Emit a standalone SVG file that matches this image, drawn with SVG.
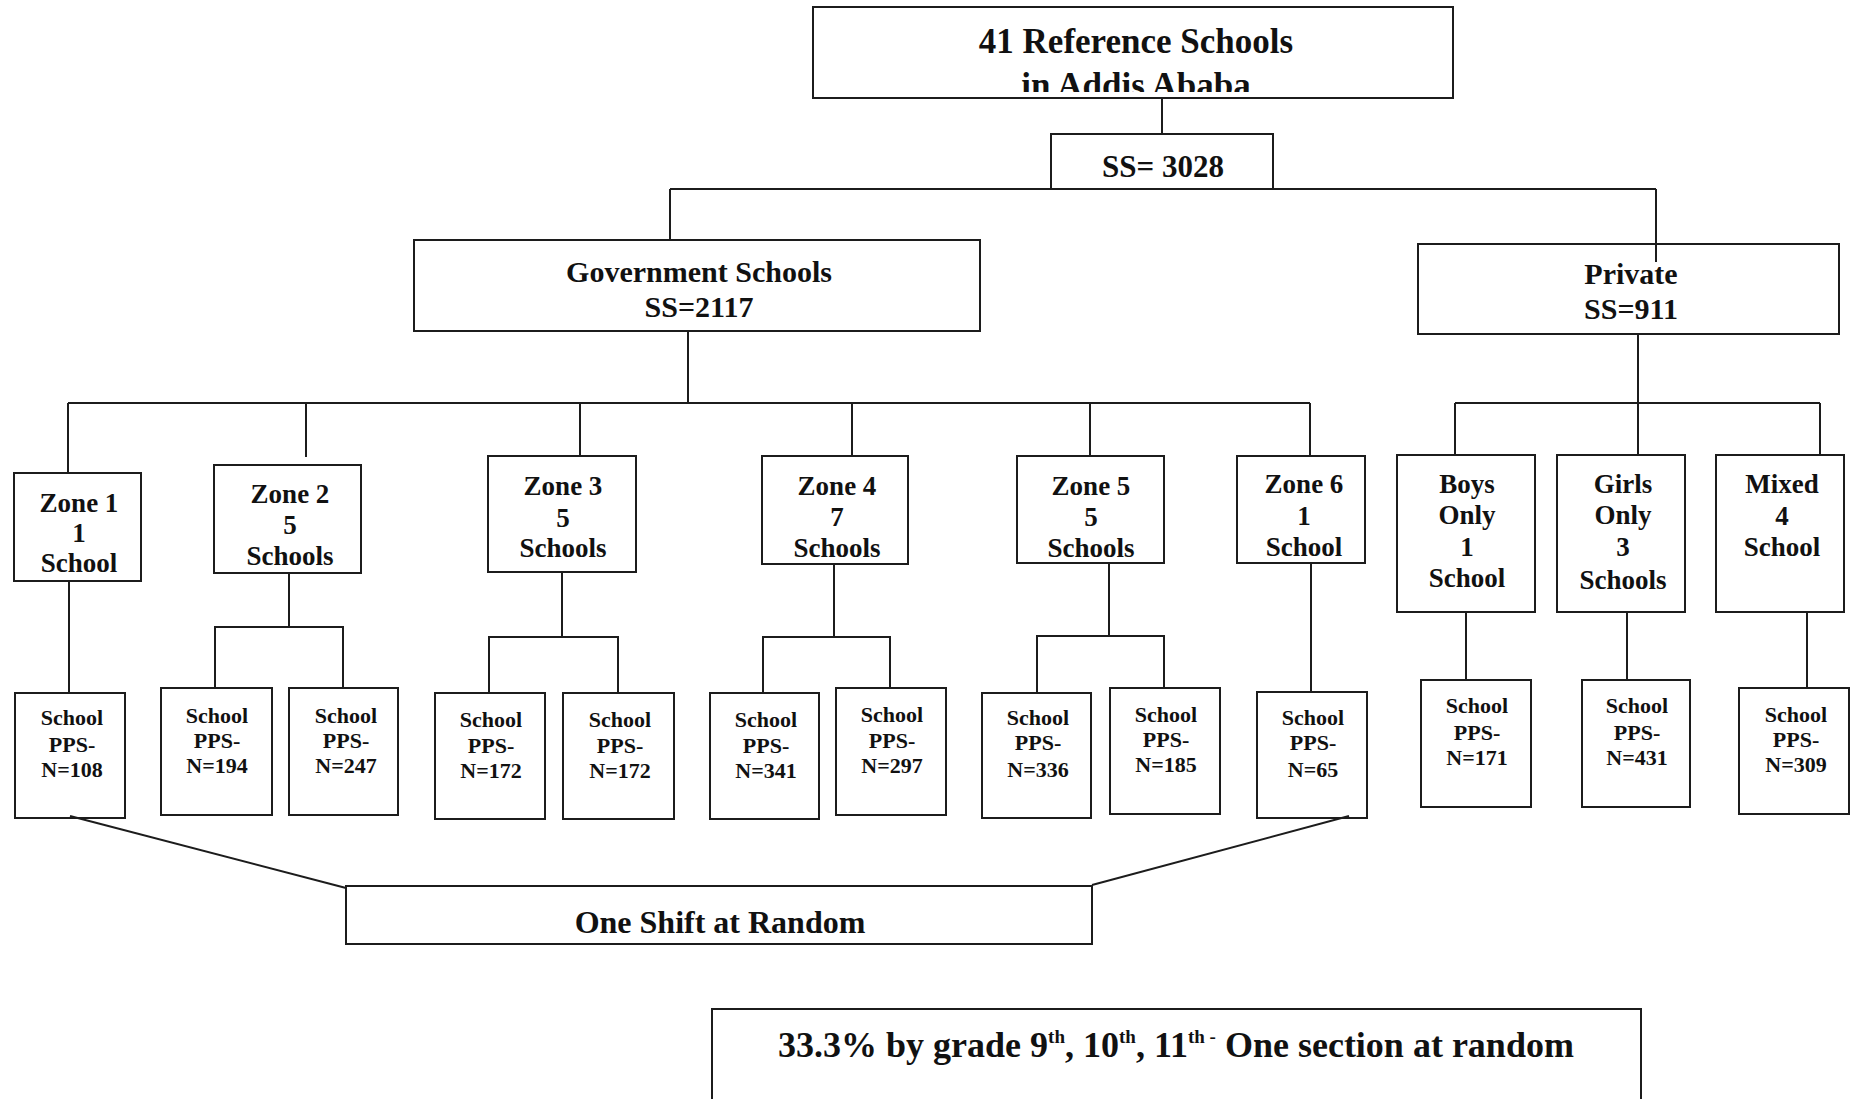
<svg xmlns="http://www.w3.org/2000/svg" width="1854" height="1099" viewBox="0 0 1854 1099">
<style>
  .box { fill: none; stroke: #1c1c1c; stroke-width: 2; }
  .ln { stroke: #1c1c1c; stroke-width: 2; fill: none; }
  text { font-family: "Liberation Serif", "Times New Roman", serif; font-weight: bold; fill: #111; text-anchor: middle; }
  .t35 { font-size: 35px; }
  .t31 { font-size: 31px; }
  .t30 { font-size: 30px; }
  .z { font-size: 27px; }
  .s { font-size: 22px; }
</style>
<defs>
  <clipPath id="clipTop"><rect x="813" y="7" width="640" height="85"/></clipPath>
</defs>
<rect x="0" y="0" width="1854" height="1099" fill="#ffffff"/>

<g id="connectors">
  <line class="ln" x1="1162" y1="98" x2="1162" y2="134"/>
  <line class="ln" x1="670" y1="189" x2="1656" y2="189"/>
  <line class="ln" x1="670" y1="189" x2="670" y2="240"/>
  <line class="ln" x1="1656" y1="189" x2="1656" y2="262"/>
  <line class="ln" x1="688" y1="331" x2="688" y2="403"/>
  <line class="ln" x1="68" y1="403" x2="1310" y2="403"/>
  <line class="ln" x1="68" y1="403" x2="68" y2="473"/>
  <line class="ln" x1="306" y1="403" x2="306" y2="457"/>
  <line class="ln" x1="580" y1="403" x2="580" y2="456"/>
  <line class="ln" x1="852" y1="403" x2="852" y2="456"/>
  <line class="ln" x1="1090" y1="403" x2="1090" y2="456"/>
  <line class="ln" x1="1310" y1="403" x2="1310" y2="456"/>
  <line class="ln" x1="1638" y1="334" x2="1638" y2="455"/>
  <line class="ln" x1="1455" y1="403" x2="1820" y2="403"/>
  <line class="ln" x1="1455" y1="403" x2="1455" y2="455"/>
  <line class="ln" x1="1820" y1="403" x2="1820" y2="455"/>
  <line class="ln" x1="69" y1="581" x2="69" y2="693"/>
  <polyline class="ln" points="215,688 215,627 343,627 343,688"/>
  <line class="ln" x1="289" y1="573" x2="289" y2="627"/>
  <polyline class="ln" points="489,693 489,637 618,637 618,693"/>
  <line class="ln" x1="562" y1="572" x2="562" y2="637"/>
  <polyline class="ln" points="763,693 763,637 890,637 890,688"/>
  <line class="ln" x1="834" y1="564" x2="834" y2="637"/>
  <polyline class="ln" points="1037,693 1037,636 1164,636 1164,688"/>
  <line class="ln" x1="1109" y1="563" x2="1109" y2="636"/>
  <line class="ln" x1="1311" y1="563" x2="1311" y2="692"/>
  <line class="ln" x1="1466" y1="612" x2="1466" y2="680"/>
  <line class="ln" x1="1627" y1="612" x2="1627" y2="680"/>
  <line class="ln" x1="1807" y1="612" x2="1807" y2="688"/>
  <line class="ln" x1="70" y1="816" x2="346" y2="888"/>
  <line class="ln" x1="1349" y1="816" x2="1092" y2="885"/>
</g>

<g id="root">
  <rect class="box" x="813" y="7" width="640" height="91"/>
  <text class="t35" x="1136" y="53">41 Reference Schools</text>
  <text class="t35" x="1136" y="97" clip-path="url(#clipTop)">in Addis Ababa</text>
</g>
<g id="ss3028">
  <rect class="box" x="1051" y="134" width="222" height="55"/>
  <text class="t31" x="1163" y="177">SS= 3028</text>
</g>
<g id="government">
  <rect class="box" x="414" y="240" width="566" height="91"/>
  <text class="t30" x="699" y="282">Government Schools</text>
  <text class="t30" x="699" y="317">SS=2117</text>
</g>
<g id="private">
  <rect class="box" x="1418" y="244" width="421" height="90"/>
  <text class="t30" x="1631" y="284">Private</text>
  <text class="t30" x="1631" y="319">SS=911</text>
</g>

<g id="zone1">
  <rect class="box" x="14" y="473" width="127" height="108"/>
  <text class="z" x="79" y="512">Zone 1</text>
  <text class="z" x="79" y="542">1</text>
  <text class="z" x="79" y="572">School</text>
</g>
<g id="zone2">
  <rect class="box" x="214" y="465" width="147" height="108"/>
  <text class="z" x="290" y="503">Zone 2</text>
  <text class="z" x="290" y="534">5</text>
  <text class="z" x="290" y="565">Schools</text>
</g>
<g id="zone3">
  <rect class="box" x="488" y="456" width="148" height="116"/>
  <text class="z" x="563" y="495">Zone 3</text>
  <text class="z" x="563" y="527">5</text>
  <text class="z" x="563" y="557">Schools</text>
</g>
<g id="zone4">
  <rect class="box" x="762" y="456" width="146" height="108"/>
  <text class="z" x="837" y="495">Zone 4</text>
  <text class="z" x="837" y="526">7</text>
  <text class="z" x="837" y="557">Schools</text>
</g>
<g id="zone5">
  <rect class="box" x="1017" y="456" width="147" height="107"/>
  <text class="z" x="1091" y="495">Zone 5</text>
  <text class="z" x="1091" y="526">5</text>
  <text class="z" x="1091" y="557">Schools</text>
</g>
<g id="zone6">
  <rect class="box" x="1237" y="456" width="128" height="107"/>
  <text class="z" x="1304" y="493">Zone 6</text>
  <text class="z" x="1304" y="525">1</text>
  <text class="z" x="1304" y="556">School</text>
</g>
<g id="boys">
  <rect class="box" x="1397" y="455" width="138" height="157"/>
  <text class="z" x="1467" y="493">Boys</text>
  <text class="z" x="1467" y="524">Only</text>
  <text class="z" x="1467" y="556">1</text>
  <text class="z" x="1467" y="587">School</text>
</g>
<g id="girls">
  <rect class="box" x="1557" y="455" width="128" height="157"/>
  <text class="z" x="1623" y="493">Girls</text>
  <text class="z" x="1623" y="524">Only</text>
  <text class="z" x="1623" y="556">3</text>
  <text class="z" x="1623" y="589">Schools</text>
</g>
<g id="mixed">
  <rect class="box" x="1716" y="455" width="128" height="157"/>
  <text class="z" x="1782" y="493">Mixed</text>
  <text class="z" x="1782" y="525">4</text>
  <text class="z" x="1782" y="556">School</text>
</g>

<g id="s108">
  <rect class="box" x="15" y="693" width="110" height="125"/>
  <text class="s" x="72" y="725">School</text>
  <text class="s" x="72" y="752">PPS-</text>
  <text class="s" x="72" y="777">N=108</text>
</g>
<g id="s194">
  <rect class="box" x="161" y="688" width="111" height="127"/>
  <text class="s" x="217" y="723">School</text>
  <text class="s" x="217" y="748">PPS-</text>
  <text class="s" x="217" y="773">N=194</text>
</g>
<g id="s247">
  <rect class="box" x="289" y="688" width="109" height="127"/>
  <text class="s" x="346" y="723">School</text>
  <text class="s" x="346" y="748">PPS-</text>
  <text class="s" x="346" y="773">N=247</text>
</g>
<g id="s172a">
  <rect class="box" x="435" y="693" width="110" height="126"/>
  <text class="s" x="491" y="727">School</text>
  <text class="s" x="491" y="753">PPS-</text>
  <text class="s" x="491" y="778">N=172</text>
</g>
<g id="s172b">
  <rect class="box" x="563" y="693" width="111" height="126"/>
  <text class="s" x="620" y="727">School</text>
  <text class="s" x="620" y="753">PPS-</text>
  <text class="s" x="620" y="778">N=172</text>
</g>
<g id="s341">
  <rect class="box" x="710" y="693" width="109" height="126"/>
  <text class="s" x="766" y="727">School</text>
  <text class="s" x="766" y="753">PPS-</text>
  <text class="s" x="766" y="778">N=341</text>
</g>
<g id="s297">
  <rect class="box" x="836" y="688" width="110" height="127"/>
  <text class="s" x="892" y="722">School</text>
  <text class="s" x="892" y="748">PPS-</text>
  <text class="s" x="892" y="773">N=297</text>
</g>
<g id="s336">
  <rect class="box" x="982" y="693" width="109" height="125"/>
  <text class="s" x="1038" y="725">School</text>
  <text class="s" x="1038" y="750">PPS-</text>
  <text class="s" x="1038" y="777">N=336</text>
</g>
<g id="s185">
  <rect class="box" x="1110" y="688" width="110" height="126"/>
  <text class="s" x="1166" y="722">School</text>
  <text class="s" x="1166" y="747">PPS-</text>
  <text class="s" x="1166" y="772">N=185</text>
</g>
<g id="s65">
  <rect class="box" x="1257" y="692" width="110" height="126"/>
  <text class="s" x="1313" y="725">School</text>
  <text class="s" x="1313" y="750">PPS-</text>
  <text class="s" x="1313" y="777">N=65</text>
</g>
<g id="s171">
  <rect class="box" x="1421" y="680" width="110" height="127"/>
  <text class="s" x="1477" y="713">School</text>
  <text class="s" x="1477" y="740">PPS-</text>
  <text class="s" x="1477" y="765">N=171</text>
</g>
<g id="s431">
  <rect class="box" x="1582" y="680" width="108" height="127"/>
  <text class="s" x="1637" y="713">School</text>
  <text class="s" x="1637" y="740">PPS-</text>
  <text class="s" x="1637" y="765">N=431</text>
</g>
<g id="s309">
  <rect class="box" x="1739" y="688" width="110" height="126"/>
  <text class="s" x="1796" y="722">School</text>
  <text class="s" x="1796" y="747">PPS-</text>
  <text class="s" x="1796" y="772">N=309</text>
</g>

<g id="oneshift">
  <rect class="box" x="346" y="886" width="746" height="58"/>
  <text x="720" y="933" style="font-size:32px">One Shift at Random</text>
</g>
<g id="grade">
  <rect class="box" x="712" y="1009" width="929" height="120"/>
  <text x="1176" y="1057" style="font-size:36px">33.3% by grade 9<tspan dy="-14" style="font-size:19px">th</tspan><tspan dy="14">, 10</tspan><tspan dy="-14" style="font-size:19px">th</tspan><tspan dy="14">, 11</tspan><tspan dy="-14" style="font-size:19px">th -</tspan><tspan dy="14"> One section at random</tspan></text>
</g>
</svg>
